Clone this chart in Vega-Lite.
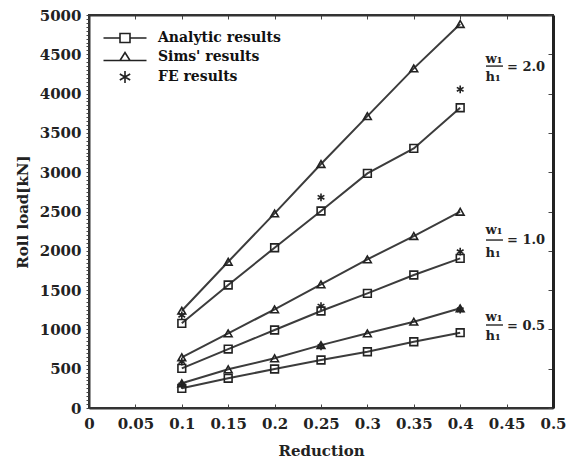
{
  "$schema": "https://vega.github.io/schema/vega-lite/v6.json",
  "width": 464,
  "height": 393,
  "autosize": "none",
  "padding": {"left": 89, "top": 15, "right": 14, "bottom": 60},
  "background": "white",
  "config": {
    "view": {"stroke": "#333", "strokeWidth": 2},
    "font": "DejaVu Serif",
    "axis": {"grid": false, "labelFont": "DejaVu Serif", "labelFontWeight": "bold", "labelFontSize": 15, "labelColor": "#222", "titleFont": "DejaVu Serif", "titleFontWeight": "bold", "titleFontSize": 15, "titleColor": "#222", "domainColor": "#333", "domainWidth": 2, "tickColor": "#444"}
  },
  "datasets": {
    "results": [
      {"reduction": 0.1, "load": 1077, "series": "Analytic results", "ratio": "2.0"},
      {"reduction": 0.15, "load": 1565, "series": "Analytic results", "ratio": "2.0"},
      {"reduction": 0.2, "load": 2039, "series": "Analytic results", "ratio": "2.0"},
      {"reduction": 0.25, "load": 2506, "series": "Analytic results", "ratio": "2.0"},
      {"reduction": 0.3, "load": 2985, "series": "Analytic results", "ratio": "2.0"},
      {"reduction": 0.35, "load": 3303, "series": "Analytic results", "ratio": "2.0"},
      {"reduction": 0.4, "load": 3820, "series": "Analytic results", "ratio": "2.0"},
      {"reduction": 0.1, "load": 1238, "series": "Sims' results", "ratio": "2.0"},
      {"reduction": 0.15, "load": 1861, "series": "Sims' results", "ratio": "2.0"},
      {"reduction": 0.2, "load": 2476, "series": "Sims' results", "ratio": "2.0"},
      {"reduction": 0.25, "load": 3104, "series": "Sims' results", "ratio": "2.0"},
      {"reduction": 0.3, "load": 3714, "series": "Sims' results", "ratio": "2.0"},
      {"reduction": 0.35, "load": 4321, "series": "Sims' results", "ratio": "2.0"},
      {"reduction": 0.4, "load": 4885, "series": "Sims' results", "ratio": "2.0"},
      {"reduction": 0.1, "load": 1180, "series": "FE results", "ratio": "2.0"},
      {"reduction": 0.25, "load": 2680, "series": "FE results", "ratio": "2.0"},
      {"reduction": 0.4, "load": 4054, "series": "FE results", "ratio": "2.0"},
      {"reduction": 0.1, "load": 505, "series": "Analytic results", "ratio": "1.0"},
      {"reduction": 0.15, "load": 750, "series": "Analytic results", "ratio": "1.0"},
      {"reduction": 0.2, "load": 992, "series": "Analytic results", "ratio": "1.0"},
      {"reduction": 0.25, "load": 1234, "series": "Analytic results", "ratio": "1.0"},
      {"reduction": 0.3, "load": 1459, "series": "Analytic results", "ratio": "1.0"},
      {"reduction": 0.35, "load": 1692, "series": "Analytic results", "ratio": "1.0"},
      {"reduction": 0.4, "load": 1904, "series": "Analytic results", "ratio": "1.0"},
      {"reduction": 0.1, "load": 645, "series": "Sims' results", "ratio": "1.0"},
      {"reduction": 0.15, "load": 950, "series": "Sims' results", "ratio": "1.0"},
      {"reduction": 0.2, "load": 1255, "series": "Sims' results", "ratio": "1.0"},
      {"reduction": 0.25, "load": 1573, "series": "Sims' results", "ratio": "1.0"},
      {"reduction": 0.3, "load": 1891, "series": "Sims' results", "ratio": "1.0"},
      {"reduction": 0.35, "load": 2188, "series": "Sims' results", "ratio": "1.0"},
      {"reduction": 0.4, "load": 2497, "series": "Sims' results", "ratio": "1.0"},
      {"reduction": 0.1, "load": 589, "series": "FE results", "ratio": "1.0"},
      {"reduction": 0.25, "load": 1297, "series": "FE results", "ratio": "1.0"},
      {"reduction": 0.4, "load": 1988, "series": "FE results", "ratio": "1.0"},
      {"reduction": 0.1, "load": 250, "series": "Analytic results", "ratio": "0.5"},
      {"reduction": 0.15, "load": 378, "series": "Analytic results", "ratio": "0.5"},
      {"reduction": 0.2, "load": 496, "series": "Analytic results", "ratio": "0.5"},
      {"reduction": 0.25, "load": 611, "series": "Analytic results", "ratio": "0.5"},
      {"reduction": 0.3, "load": 716, "series": "Analytic results", "ratio": "0.5"},
      {"reduction": 0.35, "load": 843, "series": "Analytic results", "ratio": "0.5"},
      {"reduction": 0.4, "load": 958, "series": "Analytic results", "ratio": "0.5"},
      {"reduction": 0.1, "load": 314, "series": "Sims' results", "ratio": "0.5"},
      {"reduction": 0.15, "load": 492, "series": "Sims' results", "ratio": "0.5"},
      {"reduction": 0.2, "load": 632, "series": "Sims' results", "ratio": "0.5"},
      {"reduction": 0.25, "load": 800, "series": "Sims' results", "ratio": "0.5"},
      {"reduction": 0.3, "load": 950, "series": "Sims' results", "ratio": "0.5"},
      {"reduction": 0.35, "load": 1098, "series": "Sims' results", "ratio": "0.5"},
      {"reduction": 0.4, "load": 1268, "series": "Sims' results", "ratio": "0.5"},
      {"reduction": 0.1, "load": 295, "series": "FE results", "ratio": "0.5"},
      {"reduction": 0.25, "load": 785, "series": "FE results", "ratio": "0.5"},
      {"reduction": 0.4, "load": 1250, "series": "FE results", "ratio": "0.5"}
    ],
    "labels": [
      {"ratio": "2.0", "numY": 4439, "barY": 4350, "denY": 4210, "eqY": 4338, "text": "= 2.0"},
      {"ratio": "1.0", "numY": 2264, "barY": 2137, "denY": 1972, "eqY": 2137, "text": "= 1.0"},
      {"ratio": "0.5", "numY": 1158, "barY": 1056, "denY": 916, "eqY": 1043, "text": "= 0.5"}
    ]
  },
  "resolve": {"scale": {"shape": "independent", "x": "independent", "y": "independent"}},
  "layer": [
    {
      "data": {"name": "results"},
      "transform": [{"filter": "datum.series !== 'FE results'"}],
      "mark": {"type": "line", "color": "#3c3c3c", "strokeWidth": 2},
      "encoding": {
        "x": {"field": "reduction", "type": "quantitative", "scale": {"domain": [0, 0.5], "nice": false},
          "axis": {"orient": "bottom", "title": "Reduction", "values": [0, 0.05, 0.1, 0.15, 0.2, 0.25, 0.3, 0.35, 0.4, 0.45, 0.5], "format": "~g", "tickSize": -4, "labelPadding": 12, "titlePadding": 12, "labelFlush": false, "labelOverlap": false}},
        "y": {"field": "load", "type": "quantitative", "scale": {"domain": [0, 5000], "nice": false},
          "axis": {"orient": "left", "title": "Roll load[kN]", "values": [0,50,100,150,200,250,300,350,400,450,500,550,600,650,700,750,800,850,900,950,1000,1050,1100,1150,1200,1250,1300,1350,1400,1450,1500,1550,1600,1650,1700,1750,1800,1850,1900,1950,2000,2050,2100,2150,2200,2250,2300,2350,2400,2450,2500,2550,2600,2650,2700,2750,2800,2850,2900,2950,3000,3050,3100,3150,3200,3250,3300,3350,3400,3450,3500,3550,3600,3650,3700,3750,3800,3850,3900,3950,4000,4050,4100,4150,4200,4250,4300,4350,4400,4450,4500,4550,4600,4650,4700,4750,4800,4850,4900,4950,5000], "labelExpr": "datum.value % 500 === 0 ? format(datum.value, 'd') : ''", "tickSize": 3, "labelPadding": 5, "labelOverlap": false, "labelFlush": false, "titlePadding": 9}},
        "detail": [{"field": "series"}, {"field": "ratio"}]
      }
    },
    {
      "data": {"name": "results"},
      "mark": {"type": "point", "filled": false, "strokeWidth": 1.6, "size": 60, "color": "#222", "opacity": 1},
      "encoding": {
        "x": {"field": "reduction", "type": "quantitative", "scale": {"domain": [0, 0.5], "nice": false},
          "axis": {"orient": "top", "title": null, "values": [0, 0.05, 0.1, 0.15, 0.2, 0.25, 0.3, 0.35, 0.4, 0.45, 0.5], "labelExpr": "''", "domain": true, "ticks": true, "tickSize": -4}},
        "y": {"field": "load", "type": "quantitative", "scale": {"domain": [0, 5000], "nice": false},
          "axis": {"orient": "right", "title": null, "values": [0, 500, 1000, 1500, 2000, 2500, 3000, 3500, 4000, 4500, 5000], "labelExpr": "''", "domain": true, "ticks": true, "tickSize": -5, "domainWidth": 3, "domainColor": "#222"}},
        "shape": {"field": "series", "type": "nominal",
          "scale": {"domain": ["Analytic results", "Sims' results", "FE results"], "range": ["square", "triangle-up", "M0,-1L0,1M-0.87,-0.5L0.87,0.5M-0.87,0.5L0.87,-0.5"]},
          "legend": null
        }
      }
    },
    {
      "data": {"name": "results"},
      "mark": {"type": "point", "filled": false, "strokeWidth": 1.6, "size": 100, "color": "#222", "opacity": 0},
      "encoding": {
        "x": {"field": "reduction", "type": "quantitative", "scale": {"domain": [0, 0.5], "nice": false}, "axis": null},
        "y": {"field": "load", "type": "quantitative", "scale": {"domain": [0, 5000], "nice": false}, "axis": null},
        "shape": {"field": "series", "type": "nominal",
          "scale": {"domain": ["Analytic results", "Sims' results", "FE results"], "range": ["M-4.3,0H-1M1,0H4.3M-1,-0.9H1V0.9H-1Z", "M-4.3,0.7H4.3M-1,0.7L0,-0.9L1,0.7Z", "M0,-1.2L0,1.2M-1.04,-0.6L1.04,0.6M-1.04,0.6L1.04,-0.6"]},
          "legend": {"orient": "none", "legendX": 29, "legendY": 16, "title": null, "labelFont": "DejaVu Serif", "labelFontWeight": "bold", "labelFontSize": 14, "labelColor": "#111", "symbolSize": 100, "symbolStrokeColor": "#222", "symbolStrokeWidth": 1.6, "symbolFillColor": "transparent", "symbolOpacity": 1, "labelOffset": 26, "rowPadding": 3}
        }
      }
    },
    {
      "data": {"name": "labels"},
      "mark": {"type": "text", "font": "DejaVu Serif", "fontWeight": "bold", "fontSize": 13, "color": "#222", "baseline": "middle", "align": "center"},
      "encoding": {
        "x": {"datum": 0.4364, "type": "quantitative", "scale": {"domain": [0, 0.5], "nice": false}, "axis": null},
        "y": {"field": "numY", "type": "quantitative", "scale": {"domain": [0, 5000], "nice": false}, "axis": null},
        "text": {"value": "w₁"}
      }
    },
    {
      "data": {"name": "labels"},
      "mark": {"type": "rule", "color": "#333", "strokeWidth": 1.5},
      "encoding": {
        "x": {"datum": 0.4278, "type": "quantitative", "scale": {"domain": [0, 0.5], "nice": false}, "axis": null},
        "x2": {"datum": 0.4461},
        "y": {"field": "barY", "type": "quantitative", "scale": {"domain": [0, 5000], "nice": false}, "axis": null}
      }
    },
    {
      "data": {"name": "labels"},
      "mark": {"type": "text", "font": "DejaVu Serif", "fontWeight": "bold", "fontSize": 13, "color": "#222", "baseline": "middle", "align": "center"},
      "encoding": {
        "x": {"datum": 0.4354, "type": "quantitative", "scale": {"domain": [0, 0.5], "nice": false}, "axis": null},
        "y": {"field": "denY", "type": "quantitative", "scale": {"domain": [0, 5000], "nice": false}, "axis": null},
        "text": {"value": "h₁"}
      }
    },
    {
      "data": {"name": "labels"},
      "mark": {"type": "text", "font": "DejaVu Serif", "fontWeight": "bold", "fontSize": 13, "color": "#222", "baseline": "middle", "align": "left"},
      "encoding": {
        "x": {"datum": 0.4505, "type": "quantitative", "scale": {"domain": [0, 0.5], "nice": false}, "axis": null},
        "y": {"field": "eqY", "type": "quantitative", "scale": {"domain": [0, 5000], "nice": false}, "axis": null},
        "text": {"field": "text"}
      }
    }
  ]
}
